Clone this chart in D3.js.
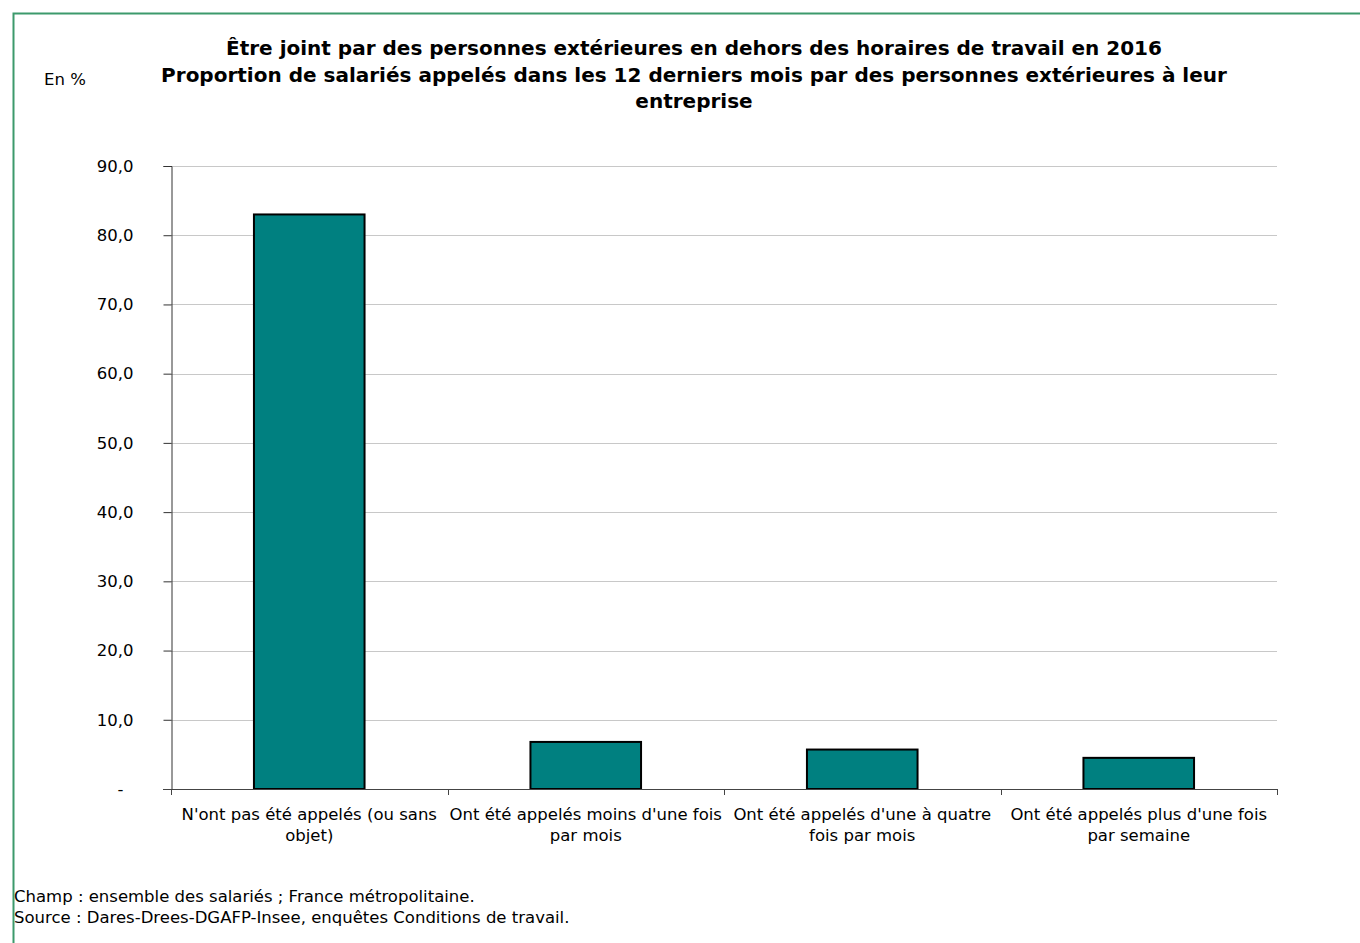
<!DOCTYPE html>
<html>
<head>
  <meta charset="utf-8">
  <title>Être joint en dehors des horaires de travail</title>
  <style>
    body { margin: 0; background: #fff; }
    svg text { font-family: Verdana, "DejaVu Sans", sans-serif; }
  </style>
</head>
<body>
<script src="https://cdnjs.cloudflare.com/ajax/libs/d3/7.8.5/d3.min.js"></script>
<div id="vis"></div>
<script>

// categories (each split in two display lines)
var categories = [
  ["N'ont pas été appelés (ou sans", "objet)"],
  ["Ont été appelés moins d'une fois", "par mois"],
  ["Ont été appelés d'une à quatre", "fois par mois"],
  ["Ont été appelés plus d'une fois", "par semaine"]
];
var values = [83.0, 6.8, 5.7, 4.5];
var yTicks = [0, 10, 20, 30, 40, 50, 60, 70, 80, 90];

var titleLines = [
  "Être joint par des personnes extérieures en dehors des horaires de travail en 2016",
  "Proportion de salariés appelés dans les 12 derniers mois par des personnes extérieures à leur",
  "entreprise"
];
var notes = [
  "Champ : ensemble des salariés ; France métropolitaine.",
  "Source : Dares-Drees-DGAFP-Insee, enquêtes Conditions de travail."
];

var W = 1360, H = 943;
var mLeft = 171, mRight = 1277, mTop = 166, mBottom = 789;

var svg = d3.select("#vis").append("svg")
  .attr("width", W)
  .attr("height", H);

// green frame (only top and left edges visible)
svg.append("path")
  .attr("d", "M13.5," + H + "V13.5H" + W)
  .attr("fill", "none")
  .attr("stroke", "#3c9a6c")
  .attr("stroke-width", 2);

// title
svg.selectAll("text.title").data(titleLines).enter().append("text")
  .attr("class", "title")
  .attr("x", 694)
  .attr("y", function(d, i) { return 55 + i * 26.5; })
  .attr("text-anchor", "middle")
  .style("font-size", "20px")
  .style("font-weight", "bold")
  .text(function(d) { return d; });

svg.append("text")
  .attr("x", 44).attr("y", 85)
  .style("font-size", "16.5px")
  .text("En %");

var x = d3.scaleBand()
  .domain(d3.range(categories.length))
  .range([mLeft, mRight])
  .paddingInner(0.6)
  .paddingOuter(0.3);

var y = d3.scaleLinear()
  .domain([0, 90])
  .range([mBottom, mTop]);

// gridlines
svg.append("g")
  .selectAll("line").data(yTicks.slice(1)).enter().append("line")
  .attr("x1", mLeft).attr("x2", mRight)
  .attr("y1", function(d) { return Math.round(y(d)) + 0.5; })
  .attr("y2", function(d) { return Math.round(y(d)) + 0.5; })
  .attr("stroke", "#c8c8c8");

// y axis
var yAxis = svg.append("g")
  .attr("transform", "translate(" + (mLeft + 0.5) + ",0)")
  .call(d3.axisLeft(y).tickValues(yTicks).tickSize(8).tickPadding(30)
    .tickFormat(function(d) { return d === 0 ? "-" : d.toFixed(1).replace(".", ","); }));
yAxis.select(".domain").attr("stroke", "#333");
yAxis.selectAll(".tick line").attr("stroke", "#333");
yAxis.selectAll("text")
  .style("font-size", "16.5px")
  .attr("fill", "#000")
  .style("font-family", "Verdana, 'DejaVu Sans', sans-serif");
yAxis.selectAll(".tick").filter(function(d) { return d === 0; }).select("text")
  .attr("dx", -10);

// bars
svg.selectAll("rect.bar").data(values).enter().append("rect")
  .attr("class", "bar")
  .attr("x", function(d, i) { return x(i); })
  .attr("y", function(d) { return y(d); })
  .attr("width", x.bandwidth())
  .attr("height", function(d) { return y(0) - y(d); })
  .attr("fill", "#008080")
  .attr("stroke", "#000")
  .attr("stroke-width", 2);

// x axis line and boundary ticks
svg.append("line")
  .attr("x1", mLeft - 8).attr("x2", mRight + 1)
  .attr("y1", mBottom + 0.5).attr("y2", mBottom + 0.5)
  .attr("stroke", "#444");
var step = (mRight - mLeft) / categories.length;
svg.selectAll("line.xtick").data(d3.range(categories.length + 1)).enter().append("line")
  .attr("class", "xtick")
  .attr("x1", function(i) { return Math.round(mLeft + i * step) + 0.5; })
  .attr("x2", function(i) { return Math.round(mLeft + i * step) + 0.5; })
  .attr("y1", mBottom).attr("y2", mBottom + 6)
  .attr("stroke", "#444");

// category labels
var lab = svg.selectAll("text.cat").data(categories).enter().append("text")
  .attr("class", "cat")
  .attr("text-anchor", "middle")
  .style("font-size", "16.5px");
lab.selectAll("tspan").data(function(d, i) {
    return d.map(function(t) { return { t: t, i: i }; });
  }).enter().append("tspan")
  .attr("x", function(d) { return x(d.i) + x.bandwidth() / 2; })
  .attr("y", function(d, j) { return 820 + j * 21; })
  .text(function(d) { return d.t; });

// notes
svg.selectAll("text.note").data(notes).enter().append("text")
  .attr("class", "note")
  .attr("x", 14)
  .attr("y", function(d, i) { return 902 + i * 21; })
  .style("font-size", "16.5px")
  .text(function(d) { return d; });

</script>
</body>
</html>
